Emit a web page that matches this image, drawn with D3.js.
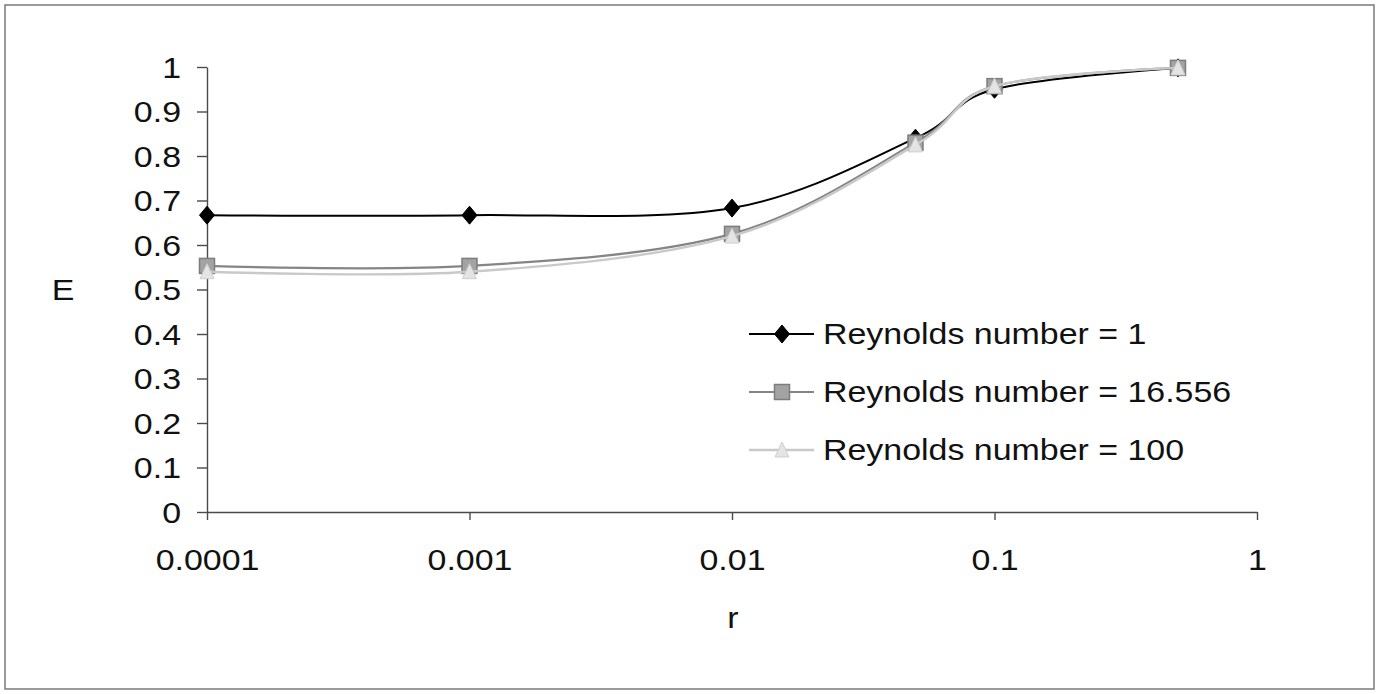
<!DOCTYPE html>
<html>
<head>
<meta charset="utf-8">
<script src="https://cdn.jsdelivr.net/npm/d3@7"></script>
<style>
html,body{margin:0;padding:0;background:#fff;}
svg{display:block;}
text{font-family:"Liberation Sans",Arial,sans-serif;fill:#111;}
</style>
</head>
<body>
<svg id="chart" width="1381" height="694"></svg>
<script>
const rValues = [0.0001, 0.001, 0.01, 0.05, 0.1, 0.5];
const seriesNames = ["Reynolds number = 1", "Reynolds number = 16.556", "Reynolds number = 100"];
const re1 = [0.667, 0.667, 0.683, 0.84, 0.95, 0.998];
const re16 = [0.553, 0.553, 0.625, 0.83, 0.957, 0.998];
const re100 = [0.54, 0.54, 0.62, 0.825, 0.957, 0.998];
const xTicks = [0.0001, 0.001, 0.01, 0.1, 1];
const xTickLabels = ["0.0001", "0.001", "0.01", "0.1", "1"];
const yTicks = [0, 0.1, 0.2, 0.3, 0.4, 0.5, 0.6, 0.7, 0.8, 0.9, 1];
const yTickLabels = ["0", "0.1", "0.2", "0.3", "0.4", "0.5", "0.6", "0.7", "0.8", "0.9", "1"];

const svg = d3.select("#chart");
const SX = 1.17, FS = 29;

// outer border
svg.append("rect").attr("x", 5).attr("y", 5).attr("width", 1369).attr("height", 684)
  .attr("fill", "#fff").attr("stroke", "#7a7a7a").attr("stroke-width", 1.5);

const x = d3.scaleLog().domain([0.0001, 1]).range([207, 1257]);
const y = d3.scaleLinear().domain([0, 1]).range([512, 67]);

// axes
const gy = svg.append("g").attr("transform", "translate(207,0)")
  .call(d3.axisLeft(y).tickValues(yTicks).tickFormat((d, i) => yTickLabels[i]).tickSize(10).tickSizeOuter(0));
const gx = svg.append("g").attr("transform", "translate(0,512)")
  .call(d3.axisBottom(x).tickValues(xTicks).tickFormat((d, i) => xTickLabels[i]).tickSize(8).tickSizeOuter(0));

[gx, gy].forEach(g => {
  g.select(".domain").attr("stroke", "#4a4a4a").attr("stroke-width", 1.4);
  g.selectAll(".tick line").attr("stroke", "#4a4a4a").attr("stroke-width", 1.4);
  g.selectAll(".tick text").attr("font-size", FS).attr("fill", "#111")
    .attr("font-family", "Liberation Sans, Arial, sans-serif");
});
gy.selectAll(".tick text").attr("x", null).attr("dy", null).attr("text-anchor", "end")
  .attr("transform", `translate(-26,10) scale(${SX},1)`);
gx.selectAll(".tick text").attr("y", null).attr("dy", null).attr("text-anchor", "middle")
  .attr("transform", `translate(0,58) scale(${SX},1)`);

// axis titles
function label(txt, px, py, anchor) {
  svg.append("text").attr("transform", `translate(${px},${py}) scale(${SX},1)`)
    .attr("text-anchor", anchor || "middle").attr("font-size", FS).text(txt);
}
label("E", 63, 300);
label("r", 733, 628);

// series
const series = [
  {name: seriesNames[0], vals: re1, line: "#000", lw: 2, marker: "diamond", fill: "#000", stroke: "#000", size: 16},
  {name: seriesNames[1], vals: re16, line: "#858585", lw: 2.2, marker: "square", fill: "#a3a3a3", stroke: "#7d7d7d", size: 15},
  {name: seriesNames[2], vals: re100, line: "#c9c9c9", lw: 2.4, marker: "triangle", fill: "#e4e4e4", stroke: "#cfcfcf", size: 14}
];

const lineGen = d3.line().curve(d3.curveCatmullRom.alpha(0))
  .x(d => x(d[0])).y(d => y(d[1]));

function drawMarker(g, type, cx, cy, s, fill, stroke) {
  if (type === "diamond") {
    g.append("path").attr("d", `M${cx},${cy - s / 2 - 1}L${cx + s / 2 - 0.5},${cy}L${cx},${cy + s / 2 + 1}L${cx - s / 2 + 0.5},${cy}Z`)
      .attr("fill", fill).attr("stroke", stroke).attr("stroke-width", 1);
  } else if (type === "square") {
    g.append("rect").attr("x", cx - s / 2).attr("y", cy - s / 2).attr("width", s).attr("height", s)
      .attr("fill", fill).attr("stroke", stroke).attr("stroke-width", 1.5);
  } else {
    g.append("path").attr("d", `M${cx},${cy - s / 2 - 1}L${cx + s / 2},${cy + s / 2}L${cx - s / 2},${cy + s / 2}Z`)
      .attr("fill", fill).attr("stroke", stroke).attr("stroke-width", 1);
  }
}

series.forEach(s => {
  const pts = rValues.map((r, i) => [r, s.vals[i]]);
  const g = svg.append("g");
  g.append("path").attr("d", lineGen(pts)).attr("fill", "none")
    .attr("stroke", s.line).attr("stroke-width", s.lw);
  pts.forEach(p => drawMarker(g, s.marker, x(p[0]), y(p[1]), s.size, s.fill, s.stroke));
});

// legend
const legendRows = [334, 392, 450];
series.forEach((s, i) => {
  const g = svg.append("g");
  const ly = legendRows[i];
  g.append("line").attr("x1", 749).attr("x2", 814).attr("y1", ly).attr("y2", ly)
    .attr("stroke", s.line).attr("stroke-width", s.lw);
  drawMarker(g, s.marker, 782, ly, s.size, s.fill, s.stroke);
  g.append("text").attr("transform", `translate(823,${ly + 10}) scale(${SX},1)`)
    .attr("font-size", FS).text(s.name);
});
</script>
</body>
</html>
